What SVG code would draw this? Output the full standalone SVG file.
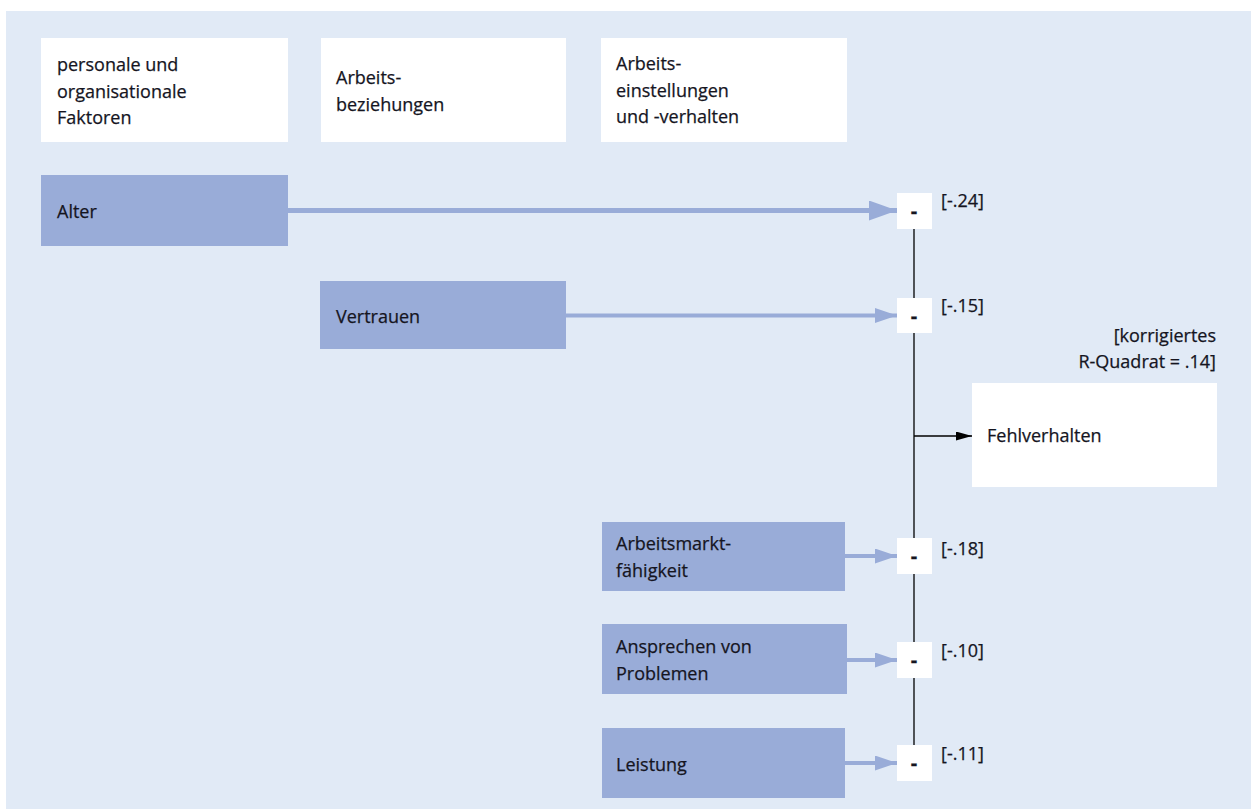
<svg xmlns="http://www.w3.org/2000/svg" width="1251" height="809" viewBox="0 0 1251 809">
<defs>
<style>
text{font-family:"Open Sans","Liberation Sans",sans-serif;font-size:18px;fill:#15151f;stroke:#15151f;stroke-width:0.25}
.hdr{fill:#ffffff}
.var{fill:#99acd8}
.mbox{fill:#ffffff}
.minus{font-weight:bold;font-size:20px;text-anchor:middle}
.blue{stroke:#99acd8;fill:none}
.blk{stroke:#000000;stroke-width:1.3;fill:none}
</style>
<marker id="ahBig" markerUnits="userSpaceOnUse" markerWidth="28" markerHeight="20" refX="28" refY="10" orient="auto"><polygon points="0,0 28,10 0,20" fill="#99acd8"/></marker>
<marker id="ahSmall" markerUnits="userSpaceOnUse" markerWidth="22" markerHeight="15" refX="22" refY="7.5" orient="auto"><polygon points="0,0 22,7.5 0,15" fill="#99acd8"/></marker>
<marker id="ahBlack" markerUnits="userSpaceOnUse" markerWidth="16" markerHeight="9" refX="16" refY="4.5" orient="auto"><polygon points="0,0 16,4.5 0,9" fill="#000000"/></marker>
</defs>
<rect x="6" y="11" width="1245" height="798" fill="#e1eaf6"/>

<g id="header1"><rect class="hdr" x="41" y="38" width="247" height="104"/>
<text x="57" y="71">personale und</text><text x="57" y="97.5">organisationale</text><text x="57" y="124">Faktoren</text></g>
<g id="header2"><rect class="hdr" x="321" y="38" width="245" height="104"/>
<text x="336" y="84">Arbeits-</text><text x="336" y="110.5">beziehungen</text></g>
<g id="header3"><rect class="hdr" x="601" y="38" width="246" height="104"/>
<text x="616" y="70">Arbeits-</text><text x="616" y="96.5">einstellungen</text><text x="616" y="123">und -verhalten</text></g>

<g id="connectors">
<line class="blk" x1="914" y1="229" x2="914" y2="746"/>
<line class="blk" x1="914" y1="436" x2="972" y2="436" marker-end="url(#ahBlack)"/>
<line class="blue" x1="288" y1="210.5" x2="897" y2="210.5" stroke-width="5" marker-end="url(#ahBig)"/>
<line class="blue" x1="566" y1="315.5" x2="897" y2="315.5" stroke-width="4" marker-end="url(#ahSmall)"/>
<line class="blue" x1="845" y1="556" x2="897" y2="556" stroke-width="4" marker-end="url(#ahSmall)"/>
<line class="blue" x1="847" y1="660" x2="897" y2="660" stroke-width="4" marker-end="url(#ahSmall)"/>
<line class="blue" x1="845" y1="763" x2="897" y2="763" stroke-width="4" marker-end="url(#ahSmall)"/>
</g>

<g id="alter"><rect class="var" x="41" y="175" width="247" height="71"/><text x="57" y="218">Alter</text></g>
<g id="vertrauen"><rect class="var" x="320" y="281" width="246" height="68"/><text x="336" y="323">Vertrauen</text></g>
<g id="arbeitsmarkt"><rect class="var" x="602" y="522" width="243" height="69"/><text x="616" y="550">Arbeitsmarkt-</text><text x="616" y="577">fähigkeit</text></g>
<g id="ansprechen"><rect class="var" x="602" y="624" width="245" height="70"/><text x="616" y="653">Ansprechen von</text><text x="616" y="680">Problemen</text></g>
<g id="leistung"><rect class="var" x="602" y="728" width="243" height="70"/><text x="616" y="771">Leistung</text></g>

<g id="m1"><rect class="mbox" x="897" y="193" width="35" height="36"/><text class="minus" x="914" y="218">-</text><text x="941" y="207">[-.24]</text></g>
<g id="m2"><rect class="mbox" x="897" y="298" width="35" height="35"/><text class="minus" x="914" y="323">-</text><text x="941" y="312">[-.15]</text></g>
<g id="m3"><rect class="mbox" x="897" y="538" width="35" height="36"/><text class="minus" x="914" y="563">-</text><text x="941" y="555">[-.18]</text></g>
<g id="m4"><rect class="mbox" x="897" y="642" width="35" height="36"/><text class="minus" x="914" y="667">-</text><text x="941" y="657">[-.10]</text></g>
<g id="m5"><rect class="mbox" x="897" y="745" width="35" height="36"/><text class="minus" x="914" y="770">-</text><text x="941" y="760">[-.11]</text></g>

<g id="fehlverhalten"><rect class="hdr" x="972" y="383" width="245" height="104"/><text x="987" y="442">Fehlverhalten</text>
<text x="1216" y="342" text-anchor="end">[korrigiertes</text><text x="1216" y="368" text-anchor="end">R-Quadrat = .14]</text></g>
</svg>
